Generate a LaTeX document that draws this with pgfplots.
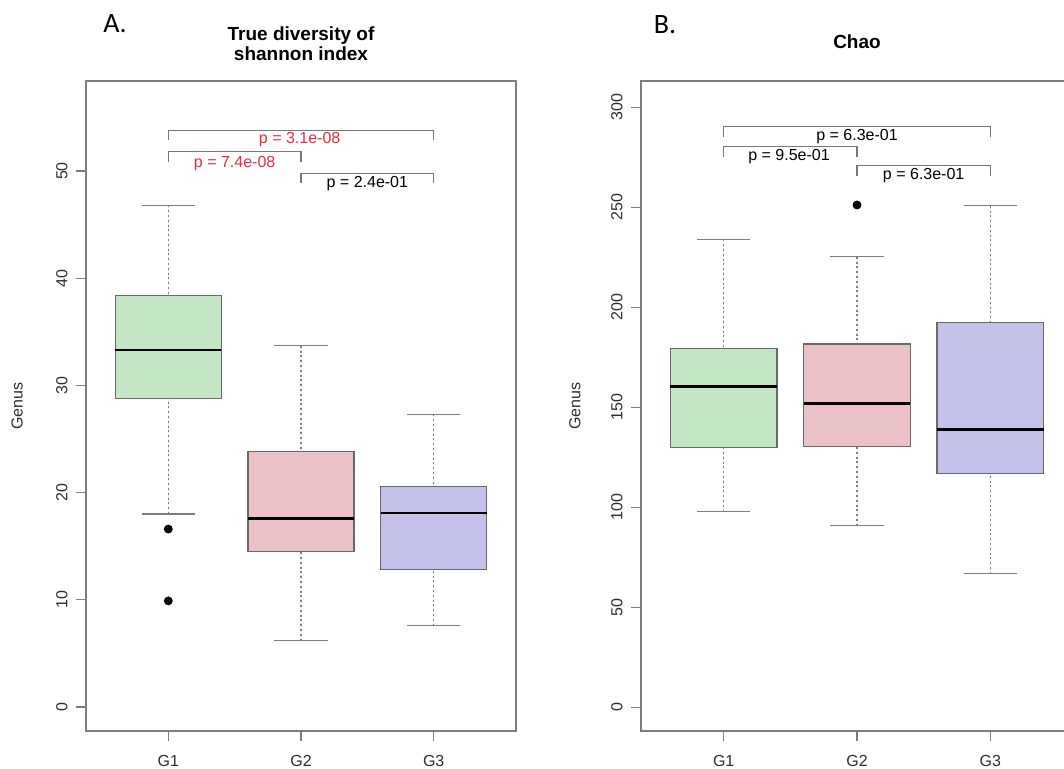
\documentclass[border=0pt]{standalone}
\usepackage{pgfplots}
\pgfplotsset{compat=1.18}
\usepgfplotslibrary{statistics}
\usepackage{fontspec}
\setmainfont{Liberation Sans}
\newfontfamily\panelfont{Carlito}
\definecolor{axgray}{RGB}{125,125,125}
\definecolor{boxgray}{RGB}{105,105,105}
\definecolor{brgray}{RGB}{120,120,120}
\definecolor{fgreen}{RGB}{195,230,197}
\definecolor{fpink}{RGB}{234,193,199}
\definecolor{fblue}{RGB}{196,194,235}
\definecolor{pred}{RGB}{232,45,55}
\definecolor{tickgray}{RGB}{45,45,45}
\pgfplotsset{
  rbox/.style={
    scale only axis, anchor=south west, height=325pt, clip=false,
    /pgf/number format/assume math mode=true,
    axis line style={axgray, line width=0.7pt},
    xtick pos=bottom, ytick pos=left,
    tick align=outside, major tick length=5pt,
    tick style={axgray, line width=0.6pt},
    xmin=0.38, xmax=3.62,
    xtick={1,2,3}, xticklabels={G1,G2,G3},
    xticklabel style={font=\fontsize{8}{9}\selectfont, text=tickgray, anchor=north, inner sep=0pt},
    yticklabel style={font=\fontsize{8}{9}\selectfont, text=tickgray, rotate=90, anchor=south, inner sep=0pt},
    xticklabel shift=7pt, yticklabel shift=4pt,
    ylabel={Genus},
    ylabel style={font=\fontsize{8}{9}\selectfont, text=tickgray, anchor=center},
    title style={font=\bfseries\fontsize{9.5}{8.8}\selectfont, align=center, anchor=center, at={(axis description cs:0.5,1)}},
    boxplot/draw direction=y,
    boxplot/box extend=0.8, boxplot/whisker extend=0.4,
    boxplot/every median/.style={black, line width=1.4pt},
    boxplot/every box/.style={draw=boxgray, line width=0.6pt},
    boxplot/draw/lower whisker/.code={%
      \draw[axgray, line width=0.6pt, dash pattern=on 1pt off 1.4pt]
        (boxplot box cs:\pgfplotsboxplotvalue{lower whisker},0.5) --
        (boxplot box cs:\pgfplotsboxplotvalue{lower quartile},0.5);
      \draw[axgray, line width=0.6pt]
        (boxplot whisker cs:\pgfplotsboxplotvalue{lower whisker},0) --
        (boxplot whisker cs:\pgfplotsboxplotvalue{lower whisker},1);
    },
    boxplot/draw/upper whisker/.code={%
      \draw[axgray, line width=0.6pt, dash pattern=on 1pt off 1.4pt]
        (boxplot box cs:\pgfplotsboxplotvalue{upper whisker},0.5) --
        (boxplot box cs:\pgfplotsboxplotvalue{upper quartile},0.5);
      \draw[axgray, line width=0.6pt]
        (boxplot whisker cs:\pgfplotsboxplotvalue{upper whisker},0) --
        (boxplot whisker cs:\pgfplotsboxplotvalue{upper whisker},1);
    },
  },
  bracket/.style={brgray, line width=0.6pt, sharp plot, mark=none},
  outl/.style={mark=*, mark size=2pt, mark options={fill=black, draw=black}},
}
\tikzset{ptext/.style={font=\fontsize{8}{9}\selectfont, inner sep=0pt, anchor=center}}
\begin{document}
\begin{tikzpicture}
\useasboundingbox (0,0) rectangle (532pt,384pt);
% ---------------- Panel A ----------------
\begin{axis}[rbox, at={(43pt,18.5pt)}, width=215pt,
  ymin=-2.24, ymax=58.4,
  ytick={0,10,20,30,40,50},
  ylabel style={at={(axis description cs:-0.16,0.5)}},
  title={True diversity of\\shannon index}, title style={yshift=12.5pt}]
\addplot[draw=boxgray, fill=fgreen, outl, boxplot prepared={draw position=1,
  lower whisker=18.0, lower quartile=28.8, median=33.3, upper quartile=38.4, upper whisker=46.8}]
  table[row sep=\\, y index=0] {16.6\\ 9.9\\};
\addplot[draw=boxgray, fill=fpink, boxplot prepared={draw position=2,
  lower whisker=6.2, lower quartile=14.5, median=17.6, upper quartile=23.8, upper whisker=33.7}]
  coordinates {};
\addplot[draw=boxgray, fill=fblue, boxplot prepared={draw position=3,
  lower whisker=7.6, lower quartile=12.8, median=18.1, upper quartile=20.6, upper whisker=27.3}]
  coordinates {};
\addplot[bracket] coordinates {(1,52.9) (1,53.8) (3,53.8) (3,52.9)};
\addplot[bracket] coordinates {(1,50.8) (1,51.8) (2,51.8) (2,50.8)};
\addplot[bracket] coordinates {(2,48.9) (2,49.8) (3,49.8) (3,48.9)};
\node[ptext, text=pred] at (axis cs:1.99,52.9) {p = 3.1e-08};
\node[ptext, text=pred] at (axis cs:1.50,50.7) {p = 7.4e-08};
\node[ptext, text=black] at (axis cs:2.50,48.8) {p = 2.4e-01};
\end{axis}
% ---------------- Panel B ----------------
\begin{axis}[rbox, at={(320.5pt,18.5pt)}, width=216pt,
  ymin=-11.9, ymax=313.2,
  ytick={0,50,100,150,200,250,300},
  ylabel style={at={(axis description cs:-0.153,0.5)}},
  title={Chao}, title style={yshift=13.5pt}]
\addplot[draw=boxgray, fill=fgreen, boxplot prepared={draw position=1,
  lower whisker=97.8, lower quartile=129.8, median=160.6, upper quartile=179.5, upper whisker=234.0}]
  coordinates {};
\addplot[draw=boxgray, fill=fpink, outl, boxplot prepared={draw position=2,
  lower whisker=90.7, lower quartile=130.3, median=151.8, upper quartile=181.7, upper whisker=225.3}]
  table[row sep=\\, y index=0] {251.2\\};
\addplot[draw=boxgray, fill=fblue, boxplot prepared={draw position=3,
  lower whisker=66.7, lower quartile=117.0, median=138.7, upper quartile=192.5, upper whisker=250.8}]
  coordinates {};
\addplot[bracket] coordinates {(1,285.3) (1,290.3) (3,290.3) (3,285.3)};
\addplot[bracket] coordinates {(1,275.3) (1,280.3) (2,280.3) (2,275.3)};
\addplot[bracket] coordinates {(2,265.8) (2,270.8) (3,270.8) (3,265.8)};
\node[ptext, text=black] at (axis cs:2.0,285.2) {p = 6.3e-01};
\node[ptext, text=black] at (axis cs:1.49,275.2) {p = 9.5e-01};
\node[ptext, text=black] at (axis cs:2.50,265.7) {p = 6.3e-01};
\end{axis}
\node[anchor=base, inner sep=0pt, font=\panelfont\fontsize{14}{14}\selectfont] at (57.5pt,367.5pt) {A.};
\node[anchor=base, inner sep=0pt, font=\panelfont\fontsize{14}{14}\selectfont] at (332.5pt,367pt) {B.};
\end{tikzpicture}
\end{document}
